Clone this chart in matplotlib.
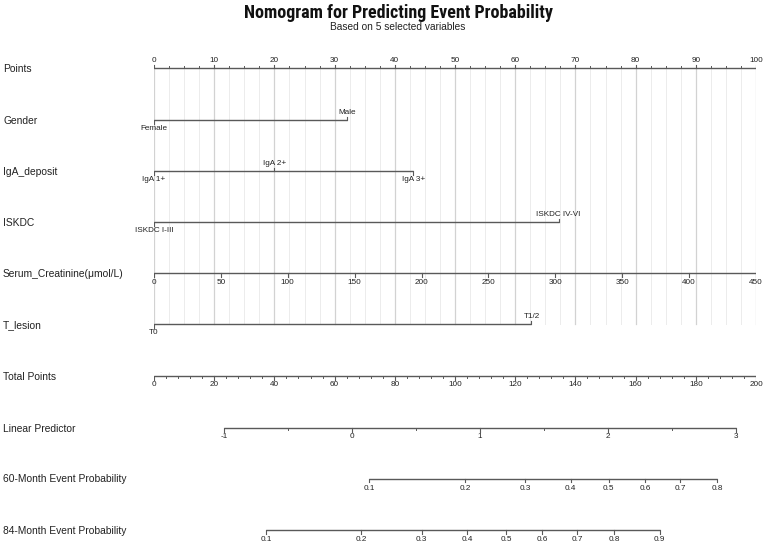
import numpy as np
import matplotlib
matplotlib.use("Agg")
import matplotlib.pyplot as plt
from matplotlib import font_manager as fm

# ---------------- data ----------------
points_ticks = [0, 10, 20, 30, 40, 50, 60, 70, 80, 90, 100]

gender_levels = ["Female", "Male"]
gender_points = [0, 32.0]

iga_levels = ["IgA 1+", "IgA 2+", "IgA 3+"]
iga_points = [0, 20.0, 43.1]

iskdc_levels = ["ISKDC I-III", "ISKDC IV-VI"]
iskdc_points = [0, 67.2]

serum_ticks = [0, 50, 100, 150, 200, 250, 300, 350, 400, 450]
serum_max_value = 450
serum_max_points = 100

tlesion_levels = ["T0", "T1/2"]
tlesion_points = [0, 62.7]

total_ticks = [0, 20, 40, 60, 80, 100, 120, 140, 160, 180, 200]

lp_ticks = [-1, 0, 1, 2, 3]
lp_total_points = [23.3, 65.8, 108.3, 150.8, 193.3]

prob60_labels = ["0.1", "0.2", "0.3", "0.4", "0.5", "0.6", "0.7", "0.8"]
prob60_total = [71.5, 103.3, 123.2, 138.4, 151.1, 163.1, 174.8, 187.1]

prob84_labels = ["0.1", "0.2", "0.3", "0.4", "0.5", "0.6", "0.7", "0.8", "0.9"]
prob84_total = [37.2, 68.8, 88.9, 104.1, 117.1, 128.9, 140.5, 152.9, 168.0]

row_names = ["Points", "Gender", "IgA_deposit", "ISKDC", "Serum_Creatinine(\u03bcmol/L)",
             "T_lesion", "Total Points", "Linear Predictor",
             "60-Month Event Probability", "84-Month Event Probability"]

title_text = "Nomogram for Predicting Event Probability"
subtitle_text = "Based on 5 selected variables"

# ---------------- fonts ----------------
installed = {f.name for f in fm.fontManager.ttflist}
title_family = ["Liberation Sans", "DejaVu Sans"]
title_stretch = "normal"
for cand in ["Liberation Sans Narrow", "Arial Narrow", "Roboto Condensed",
             "Open Sans Condensed", "Noto Sans Condensed"]:
    if cand in installed:
        title_family = [cand, "Liberation Sans", "DejaVu Sans"]
        break
else:
    for f in fm.fontManager.ttflist:
        if f.name in ("DejaVu Sans", "Noto Sans", "Open Sans", "Roboto") and \
                str(f.stretch) in ("condensed", "semi-condensed", "extra-condensed"):
            title_family = [f.name, "Liberation Sans"]
            title_stretch = f.stretch
            break

# ---------------- layout ----------------
W, H = 767, 545
fig = plt.figure(figsize=(W / 100, H / 100), dpi=100)
x0_px, x1_px = 154, 756
ax = fig.add_axes([x0_px / W, 0, (x1_px - x0_px) / W, 1])
ax.set_xlim(0, 100)
ax.set_ylim(H, 0)
ax.axis("off")

FONT = ["Liberation Sans", "DejaVu Sans"]
LINE_C = "#595959"
TXT_C = "#222222"
TICK_FS = 5.9
NAME_FS = 7.4
row_y = [68, 120.3, 171, 222.3, 273.3, 324.3, 376, 428, 478.5, 530]
tick_len = 3.5
minor_len = 2.0
below_off = 5.2
above_off = 4.3

def tot2pts(v):
    return np.asarray(v, dtype=float) / 2.0

# grid lines
for g in np.arange(0, 100.01, 2.5):
    major = abs(g / 10 - round(g / 10)) < 1e-9
    ax.plot([g, g], [row_y[0], row_y[5]], color="#d2d2d2" if major else "#ececec",
            lw=0.9 if major else 0.7, zorder=0)

# row names
for name, y in zip(row_names, row_y):
    fig.text(3 / W, 1 - (y + 1) / H, name, fontsize=NAME_FS, family=FONT,
             color=TXT_C, ha="left", va="center")

def axis_line(y, xs):
    ax.plot([min(xs), max(xs)], [y, y], color=LINE_C, lw=1.0, zorder=3,
            solid_capstyle="butt")

# Points axis (labels above)
y = row_y[0]
axis_line(y, [0, 100])
for t in points_ticks:
    ax.plot([t, t], [y, y - tick_len], color=LINE_C, lw=0.8)
    ax.text(t, y - above_off, str(t), fontsize=TICK_FS, family=FONT, color=TXT_C,
            ha="center", va="bottom")
for t in np.arange(0, 100.01, 2.5):
    if t not in points_ticks:
        ax.plot([t, t], [y, y - minor_len], color=LINE_C, lw=0.7)

# categorical rows
def cat_row(y, levels, pts, above):
    axis_line(y, pts)
    for lev, p, up in zip(levels, pts, above):
        d = -tick_len if up else tick_len
        ax.plot([p, p], [y, y + d], color=LINE_C, lw=0.8)
        if up:
            ax.text(p, y - above_off, lev, fontsize=TICK_FS, family=FONT,
                    color=TXT_C, ha="center", va="bottom")
        else:
            ax.text(p, y + below_off, lev, fontsize=TICK_FS, family=FONT,
                    color=TXT_C, ha="center", va="top")

cat_row(row_y[1], gender_levels, gender_points, [False, True])
cat_row(row_y[2], iga_levels, iga_points, [False, True, False])
cat_row(row_y[3], iskdc_levels, iskdc_points, [False, True])
cat_row(row_y[5], tlesion_levels, tlesion_points, [False, True])

# continuous rows with labels below
def cont_row(y, positions, labels, minors=None, off=below_off):
    axis_line(y, positions)
    for p, lab in zip(positions, labels):
        ax.plot([p, p], [y, y + tick_len], color=LINE_C, lw=0.8)
        ax.text(p, y + off, lab, fontsize=TICK_FS, family=FONT, color=TXT_C,
                ha="center", va="top")
    if minors is not None:
        for p in minors:
            ax.plot([p, p], [y, y + minor_len], color=LINE_C, lw=0.7)

serum_pos = np.array(serum_ticks, float) / serum_max_value * serum_max_points
cont_row(row_y[4], serum_pos, [str(v) for v in serum_ticks])

tot_minor = tot2pts([v for v in np.arange(0, 200.01, 4) if v % 20 != 0])
cont_row(row_y[6], tot2pts(total_ticks), [str(v) for v in total_ticks], tot_minor)

lp_pos = tot2pts(lp_total_points)
lp_minor = (lp_pos[:-1] + lp_pos[1:]) / 2
cont_row(row_y[7], lp_pos, [str(v) for v in lp_ticks], lp_minor)

cont_row(row_y[8], tot2pts(prob60_total), prob60_labels, off=6.0)
cont_row(row_y[9], tot2pts(prob84_total), prob84_labels, off=6.0)

# titles
title_cx = 398 / W
t = fig.text(title_cx, 1 - 12.5 / H, title_text, fontsize=13.5, fontweight="bold",
             family=title_family, fontstretch=title_stretch,
             color="#111111", ha="center", va="center")
st = fig.text(title_cx, 1 - 27 / H, subtitle_text, fontsize=7.3,
              family=FONT, color="#222222", ha="center", va="center")
fig.canvas.draw()
r = fig.canvas.get_renderer()
w = t.get_window_extent(r).width
if w > 0:
    t.set_fontsize(13.5 * min(1.0, 310.0 / w))

fig.savefig("out.png", dpi=100, facecolor="white")
